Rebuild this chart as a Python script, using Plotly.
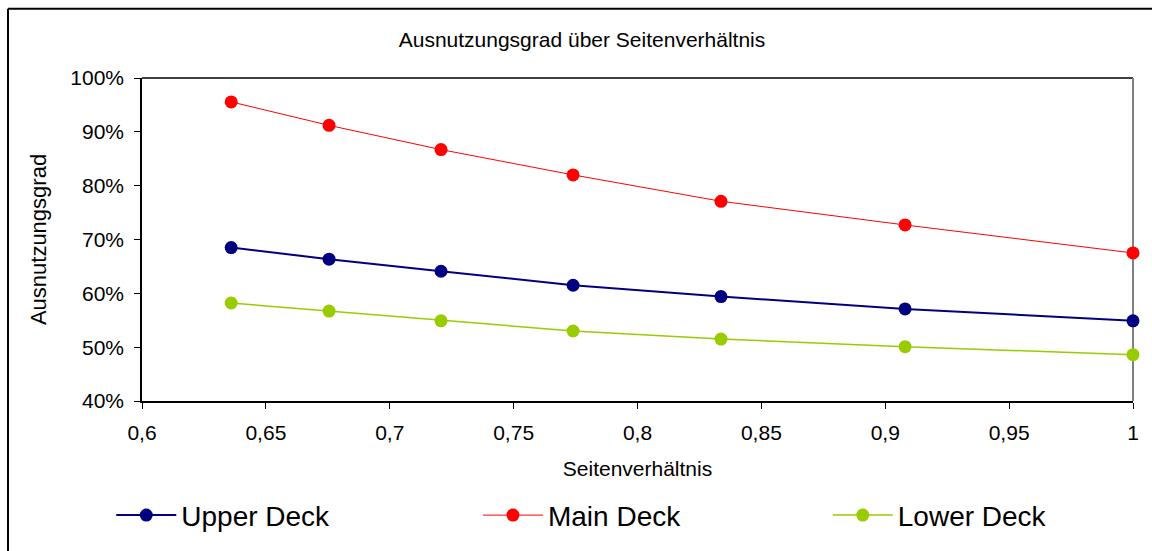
import plotly.graph_objects as go

# Seitenverhältnis (aspect ratio) sampled for each deck
seitenverhaeltnis = [0.636, 0.6755, 0.7207, 0.774, 0.8337, 0.908, 1.0]

# Ausnutzungsgrad (utilisation) per deck
upper_deck = [0.685, 0.6635, 0.641, 0.615, 0.594, 0.571, 0.549]
main_deck = [0.9556, 0.912, 0.867, 0.820, 0.771, 0.727, 0.675]
lower_deck = [0.582, 0.567, 0.549, 0.530, 0.515, 0.501, 0.486]

# name, values, colour, line width, legend id, legend x (paper)
series = [
    ("Upper Deck", upper_deck, "#000080", 2, "legend", -0.031),
    ("Main Deck", main_deck, "#FF0000", 1, "legend2", 0.339),
    ("Lower Deck", lower_deck, "#99CC00", 1.5, "legend3", 0.692),
]

FONT = "Liberation Sans, Arial, sans-serif"

fig = go.Figure()
legends = {}
for name, values, color, lw, leg, lx in series:
    fig.add_trace(go.Scatter(
        x=seitenverhaeltnis, y=values, name=name, mode="lines+markers",
        line=dict(color=color, width=lw),
        marker=dict(color=color, size=13, symbol="circle"),
        cliponaxis=False, legend=leg,
    ))
    legends[leg] = dict(orientation="h", x=lx, xanchor="left",
                        y=-0.35, yanchor="middle",
                        font=dict(size=28, family=FONT), itemwidth=60,
                        bgcolor="rgba(0,0,0,0)")

fig.update_layout(
    width=1152, height=551,
    margin=dict(l=142, r=19, t=78, b=149),
    paper_bgcolor="white", plot_bgcolor="white",
    separators=",.",
    font=dict(family=FONT, color="black", size=18),
    title=dict(text="Ausnutzungsgrad über Seitenverhältnis",
               x=582 / 1152, xanchor="center", xref="container",
               y=1 - 40 / 551, yanchor="middle",
               font=dict(size=21, family=FONT)),
    showlegend=True,
    **legends,
)

fig.update_xaxes(
    range=[0.6, 1.0], tick0=0.6, dtick=0.05,
    showgrid=False, zeroline=False,
    showline=True, linecolor="black", linewidth=1.5, mirror=False,
    ticks="outside", ticklen=6, tickcolor="black",
    tickfont=dict(size=21), ticklabelstandoff=6,
    title=dict(text="Seitenverhältnis", font=dict(size=21), standoff=18),
)
fig.update_yaxes(
    range=[0.4, 1.0], tick0=0.4, dtick=0.1, tickformat=".0%",
    showgrid=False, zeroline=False,
    showline=True, linecolor="black", linewidth=1.5,
    ticks="outside", ticklen=6, tickcolor="black",
    tickfont=dict(size=21), ticklabelstandoff=6,
    title=dict(text="Ausnutzungsgrad", font=dict(size=22), standoff=18),
)

# plot-area frame: black top edge, grey right edge
fig.add_shape(type="line", xref="paper", yref="paper", x0=0, x1=1, y0=1, y1=1,
              line=dict(color="black", width=1.5), layer="below")
fig.add_shape(type="line", xref="paper", yref="paper", x0=1, x1=1, y0=0, y1=1,
              line=dict(color="#808080", width=2), layer="below")

# outer chart border (open to the right and bottom)
fig.add_shape(type="line", xref="paper", yref="paper",
              x0=(8 - 142) / 991, x1=(1160 - 142) / 991,
              y0=1 + (78 - 8.5) / 324, y1=1 + (78 - 8.5) / 324,
              line=dict(color="black", width=2))
fig.add_shape(type="line", xref="paper", yref="paper",
              x0=(8 - 142) / 991, x1=(8 - 142) / 991,
              y0=1 + (78 - 8.5) / 324, y1=-(560 - 402) / 324,
              line=dict(color="black", width=2))

fig.write_html("out.html")
